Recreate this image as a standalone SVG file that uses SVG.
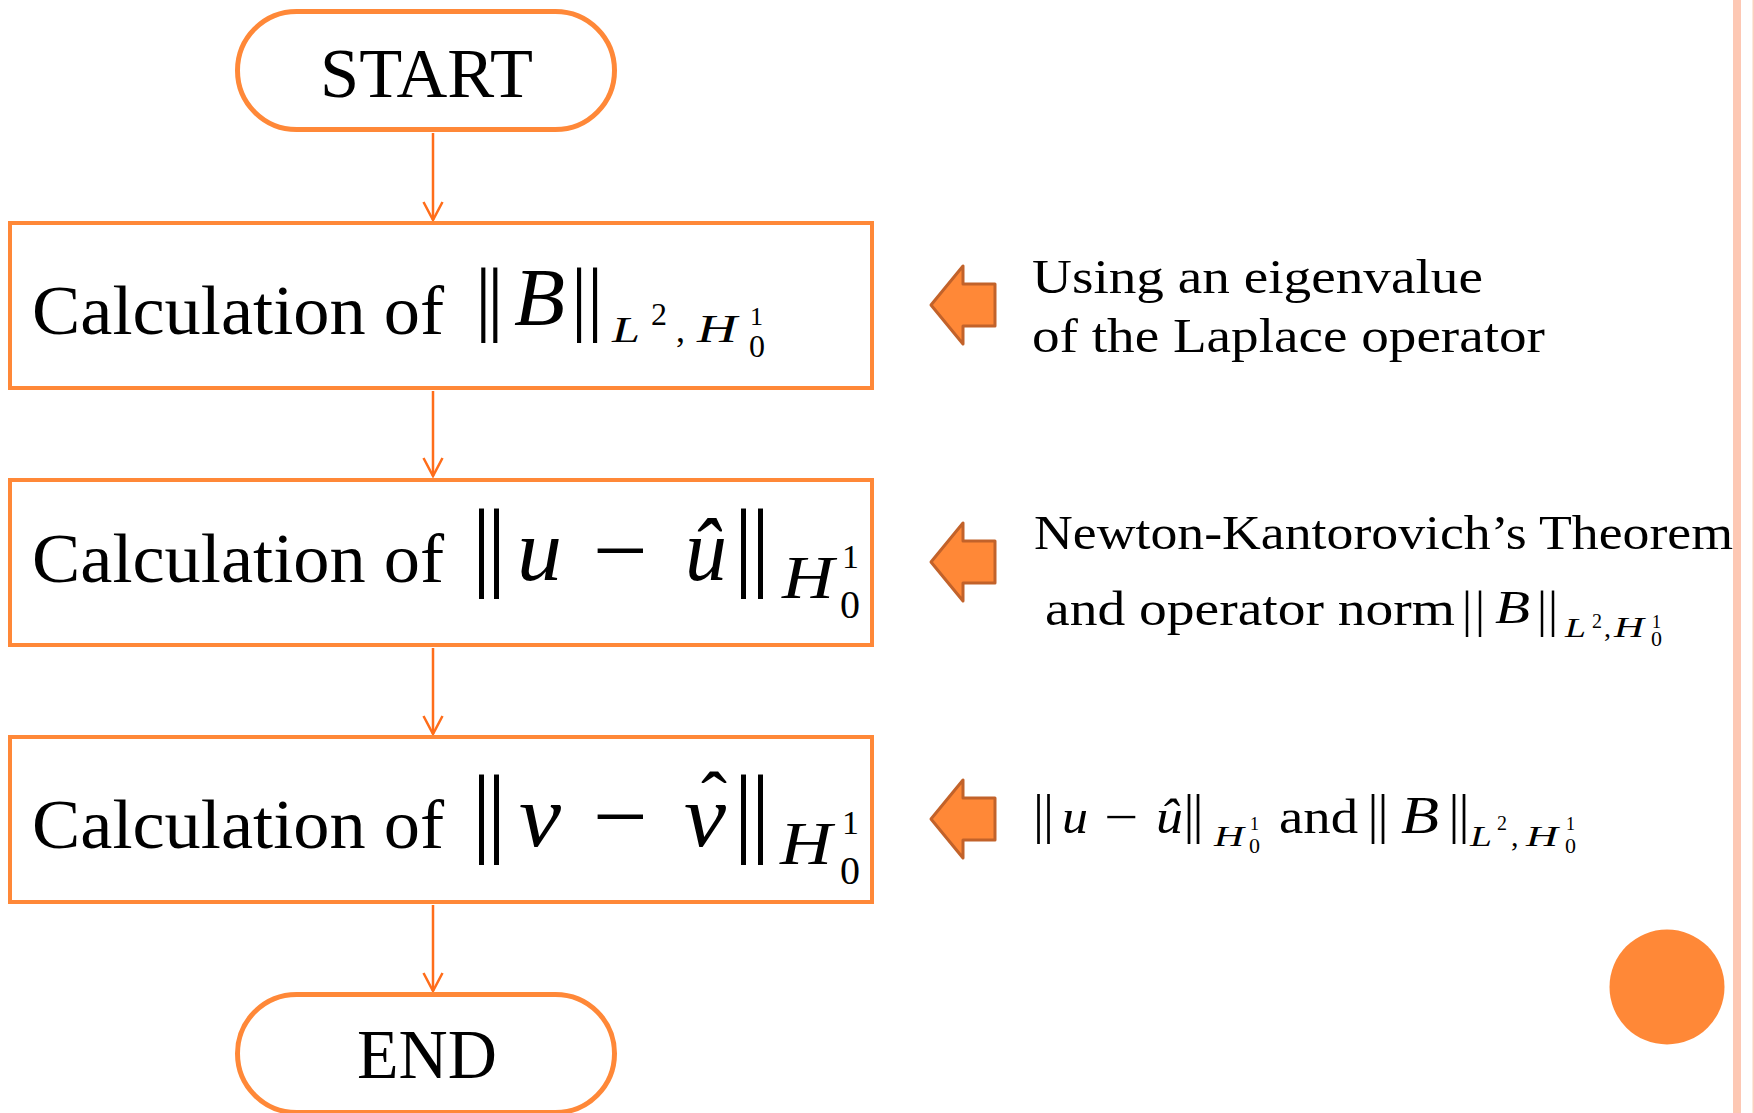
<svg xmlns="http://www.w3.org/2000/svg" width="1754" height="1113" viewBox="0 0 1754 1113">
<defs>
<style>
.t{font-family:"Liberation Serif","Times New Roman",serif;fill:#000}
.i{font-family:"Liberation Serif","Times New Roman",serif;font-style:italic;fill:#000}
.box{fill:#fff;stroke:#FF8838;stroke-width:4}
.pill{fill:#fff;stroke:#FF8838;stroke-width:5}
.conn{stroke:#FF6D1A;stroke-width:2.5;fill:none}
.blk{fill:#FF8837;stroke:#C2622A;stroke-width:3;stroke-linejoin:round}
</style>
<marker id="ah" markerUnits="userSpaceOnUse" markerWidth="22" markerHeight="22" viewBox="0 0 22 22" refX="20" refY="11" orient="auto">
<path d="M2,1.5 L20,11 L2,20.5" fill="none" stroke="#FF6D1A" stroke-width="2.5"/>
</marker>
</defs>
<rect width="1754" height="1113" fill="#fff"/>
<rect x="1733" y="0" width="8" height="1113" fill="#FDC8B4"/>
<rect x="1752.5" y="0" width="1.5" height="1113" fill="#FCCFBE"/>
<circle cx="1667" cy="987" r="57.5" fill="#FF8837"/>

<g id="connectors">
<line class="conn" x1="433" y1="133" x2="433" y2="220" marker-end="url(#ah)"/>
<line class="conn" x1="433" y1="391" x2="433" y2="476" marker-end="url(#ah)"/>
<line class="conn" x1="433" y1="648" x2="433" y2="734" marker-end="url(#ah)"/>
<line class="conn" x1="433" y1="905" x2="433" y2="991" marker-end="url(#ah)"/>
</g>

<g id="start">
<rect class="pill" x="237.5" y="11.5" width="377" height="118" rx="59"/>
<text class="t" x="320" y="97" font-size="70" textLength="213" lengthAdjust="spacingAndGlyphs">START</text>
</g>

<g id="box1">
<rect class="box" x="10" y="223" width="862" height="165"/>
<text class="t" x="32" y="334" font-size="70" textLength="412" lengthAdjust="spacingAndGlyphs">Calculation of</text>
<text class="t" x="475" y="325" font-size="83" letter-spacing="-4.6">||</text>
<text class="i" x="514" y="325" font-size="83" textLength="51" lengthAdjust="spacingAndGlyphs">B</text>
<text class="t" x="570.7" y="325" font-size="83" letter-spacing="-0.6">||</text>
<text class="i" x="612" y="342" font-size="36" textLength="28" lengthAdjust="spacingAndGlyphs">L</text>
<text class="t" x="651" y="325" font-size="32">2</text>
<text class="t" x="676" y="342" font-size="36">,</text>
<text class="i" x="697" y="342" font-size="40" textLength="40" lengthAdjust="spacingAndGlyphs">H</text>
<text class="t" x="750" y="325" font-size="26">1</text>
<text class="t" x="749" y="357" font-size="32">0</text>
</g>

<g id="box2">
<rect class="box" x="10" y="480" width="862" height="165"/>
<text class="t" x="32" y="582" font-size="70" textLength="412" lengthAdjust="spacingAndGlyphs">Calculation of</text>
<text class="t" x="471.5" y="578" font-size="100" letter-spacing="-5">||</text>
<text class="i" x="517" y="580" font-size="88" textLength="45" lengthAdjust="spacingAndGlyphs">u</text>
<text class="t" x="593" y="580" font-size="88" textLength="55" lengthAdjust="spacingAndGlyphs">−</text>
<text class="i" x="685" y="580" font-size="88" textLength="42" lengthAdjust="spacingAndGlyphs">û</text>
<text class="t" x="733.5" y="578" font-size="100" letter-spacing="-3">||</text>
<text class="i" x="782" y="598" font-size="62" textLength="52" lengthAdjust="spacingAndGlyphs">H</text>
<text class="t" x="842" y="568" font-size="34">1</text>
<text class="t" x="840" y="618" font-size="40">0</text>
</g>

<g id="box3">
<rect class="box" x="10" y="737" width="862" height="165"/>
<text class="t" x="32" y="848" font-size="70" textLength="412" lengthAdjust="spacingAndGlyphs">Calculation of</text>
<text class="t" x="471.5" y="844" font-size="100" letter-spacing="-5">||</text>
<text class="i" x="519" y="846" font-size="88" textLength="42" lengthAdjust="spacingAndGlyphs">v</text>
<text class="t" x="593" y="846" font-size="88" textLength="55" lengthAdjust="spacingAndGlyphs">−</text>
<text class="i" x="684" y="846" font-size="88" textLength="42" lengthAdjust="spacingAndGlyphs">v</text>
<text class="t" x="701" y="826" font-size="78">ˆ</text>
<text class="t" x="733.5" y="844" font-size="100" letter-spacing="-3">||</text>
<text class="i" x="780" y="864" font-size="62" textLength="52" lengthAdjust="spacingAndGlyphs">H</text>
<text class="t" x="842" y="834" font-size="34">1</text>
<text class="t" x="840" y="884" font-size="40">0</text>
</g>

<g id="end">
<rect class="pill" x="237.5" y="994.5" width="377" height="118" rx="59"/>
<text class="t" x="357" y="1078" font-size="70" textLength="140" lengthAdjust="spacingAndGlyphs">END</text>
</g>

<g id="note1">
<path class="blk" d="M931,305 L963,266 L963,284 L995,284 L995,326 L963,326 L963,344 Z"/>
<text class="t" x="1032" y="293" font-size="48" textLength="451" lengthAdjust="spacingAndGlyphs">Using an eigenvalue</text>
<text class="t" x="1032" y="352" font-size="48" textLength="513" lengthAdjust="spacingAndGlyphs">of the Laplace operator</text>
</g>

<g id="note2">
<path class="blk" d="M931,562 L963,523 L963,541 L995,541 L995,583 L963,583 L963,601 Z"/>
<text class="t" x="1034" y="549" font-size="48" textLength="699" lengthAdjust="spacingAndGlyphs">Newton-Kantorovich’s Theorem</text>
<text class="t" x="1045" y="625" font-size="48" textLength="410" lengthAdjust="spacingAndGlyphs">and operator norm</text>
<text class="t" x="1462" y="626" font-size="50" letter-spacing="3">||</text>
<text class="i" x="1495" y="623" font-size="46" textLength="35" lengthAdjust="spacingAndGlyphs">B</text>
<text class="t" x="1537" y="626" font-size="50" letter-spacing="1">||</text>
<text class="i" x="1565" y="637" font-size="28" textLength="21" lengthAdjust="spacingAndGlyphs">L</text>
<text class="t" x="1592" y="628" font-size="20">2</text>
<text class="t" x="1604" y="637" font-size="28">,</text>
<text class="i" x="1614" y="637" font-size="30" textLength="30" lengthAdjust="spacingAndGlyphs">H</text>
<text class="t" x="1652" y="628" font-size="18">1</text>
<text class="t" x="1651" y="646" font-size="22">0</text>
</g>

<g id="note3">
<path class="blk" d="M931,819 L963,780 L963,798 L995,798 L995,840 L963,840 L963,858 Z"/>
<text class="t" x="1033" y="832" font-size="55" letter-spacing="-1">||</text>
<text class="i" x="1062" y="833" font-size="48" textLength="26" lengthAdjust="spacingAndGlyphs">u</text>
<text class="t" x="1104" y="833" font-size="48" textLength="34" lengthAdjust="spacingAndGlyphs">−</text>
<text class="i" x="1156" y="833" font-size="48" textLength="27" lengthAdjust="spacingAndGlyphs">û</text>
<text class="t" x="1183.5" y="832" font-size="55" letter-spacing="-2">||</text>
<text class="i" x="1214" y="846" font-size="30" textLength="30" lengthAdjust="spacingAndGlyphs">H</text>
<text class="t" x="1250" y="830" font-size="18">1</text>
<text class="t" x="1249" y="853" font-size="22">0</text>
<text class="t" x="1279" y="833" font-size="48" textLength="79" lengthAdjust="spacingAndGlyphs">and</text>
<text class="t" x="1367.5" y="832" font-size="55" letter-spacing="-1">||</text>
<text class="i" x="1401" y="833" font-size="52" textLength="38" lengthAdjust="spacingAndGlyphs">B</text>
<text class="t" x="1448.5" y="832" font-size="55" letter-spacing="-1">||</text>
<text class="i" x="1470" y="846" font-size="30" textLength="22" lengthAdjust="spacingAndGlyphs">L</text>
<text class="t" x="1497" y="830" font-size="20">2</text>
<text class="t" x="1511" y="846" font-size="30">,</text>
<text class="i" x="1526" y="846" font-size="30" textLength="32" lengthAdjust="spacingAndGlyphs">H</text>
<text class="t" x="1566" y="830" font-size="18">1</text>
<text class="t" x="1565" y="853" font-size="22">0</text>
</g>
</svg>
